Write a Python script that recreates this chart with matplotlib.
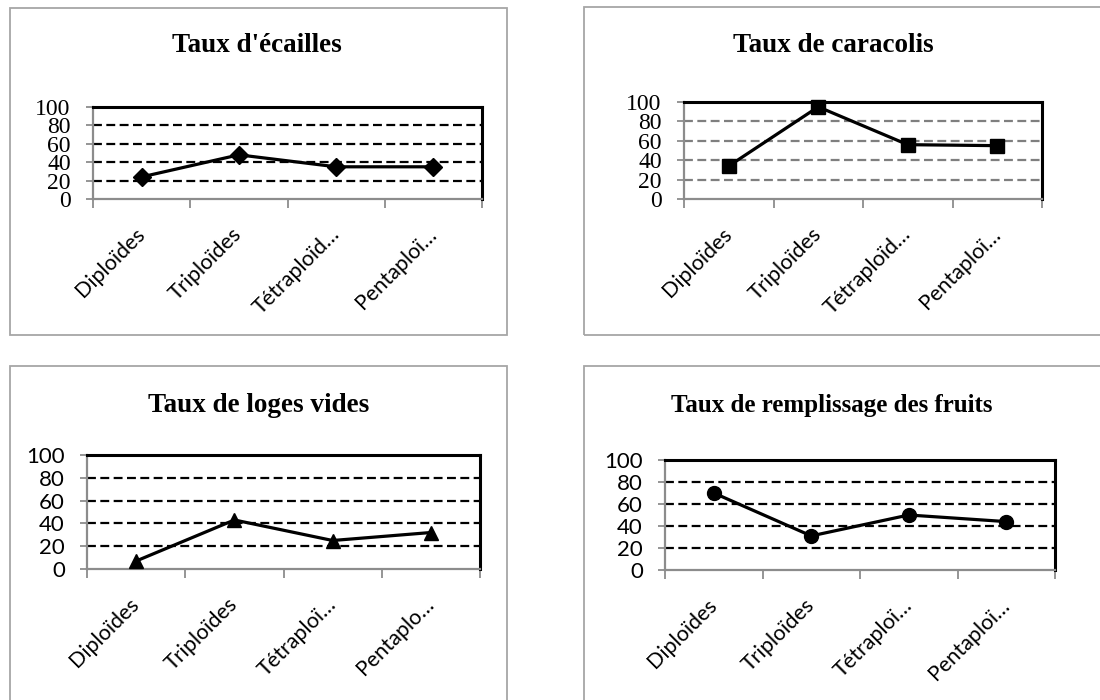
import matplotlib
matplotlib.use("Agg")
import matplotlib.pyplot as plt
import numpy as np
from matplotlib.patches import Rectangle

W, H = 1100, 700

titles = ["Taux d'écailles", "Taux de caracolis", "Taux de loges vides",
          "Taux de remplissage des fruits"]
labels_1 = ["Diploïdes", "Triploïdes", "Tétraploïd…", "Pentaploï…"]
labels_2 = ["Diploïdes", "Triploïdes", "Tétraploïd…", "Pentaploï…"]
labels_3 = ["Diploïdes", "Triploïdes", "Tétraploï…", "Pentaplo…"]
labels_4 = ["Diploïdes", "Triploïdes", "Tétraploï…", "Pentaploï…"]
ecailles = [24, 48, 35, 35]
caracolis = [34, 95, 56, 55]
loges_vides = [7, 43, 25, 32]
remplissage = [70, 31, 50, 44]
yticks = [0, 20, 40, 60, 80, 100]

fig = plt.figure(figsize=(W / 100, H / 100), dpi=100)
fig.patch.set_facecolor("white")

def px_rect(l, t, r, b):
    return [l / W, 1 - b / H, (r - l) / W, (b - t) / H]

# panel frames
for (l, t, r, b) in [(10, 8, 507, 335), (584, 7, 1110, 335),
                     (10, 366, 507, 710), (584, 366, 1110, 710)]:
    fig.patches.append(Rectangle((l / W, 1 - b / H), (r - l) / W, (b - t) / H,
                                 transform=fig.transFigure, fill=False,
                                 edgecolor="#a6a6a6", lw=1.3, zorder=0))

panels = [
    dict(rect=(93, 107, 482, 199), title=titles[0], tsize=19.5, tc=(257, 46),
         vals=ecailles, labels=labels_1, marker="D", ms=9, grid="black",
         yfont="Liberation Serif", ysize=17),
    dict(rect=(684, 102, 1042, 199), title=titles[1], tsize=19.5, tc=(833, 45),
         vals=caracolis, labels=labels_2, marker="s", ms=10, grid="#7f7f7f",
         yfont="Liberation Serif", ysize=17),
    dict(rect=(87, 455, 480, 569), title=titles[2], tsize=19.5, tc=(259, 405),
         vals=loges_vides, labels=labels_3, marker="^", ms=10, grid="black",
         yfont="Lato", ysize=16),
    dict(rect=(665, 460, 1055, 570), title=titles[3], tsize=18, tc=(832, 405),
         vals=remplissage, labels=labels_4, marker="o", ms=10, grid="black",
         yfont="Lato", ysize=16),
]

for p in panels:
    ax = fig.add_axes(px_rect(*p["rect"]))
    x = np.arange(len(p["vals"]))
    ax.plot(x, p["vals"], color="black", lw=2.3, marker=p["marker"],
            ms=p["ms"], mfc="black", mec="black", zorder=3, clip_on=False)
    ax.set_xlim(-0.5, len(x) - 0.5)
    ax.set_ylim(0, 100)
    ax.set_yticks(yticks)
    ax.set_yticklabels([str(v) for v in yticks], fontfamily=p["yfont"],
                       fontsize=p["ysize"])
    for v in yticks[1:-1]:
        ax.axhline(v, color=p["grid"], lw=1.6, ls=(0, (4, 2)), zorder=1)
    ax.set_xticks(np.arange(-0.5, len(x)), labels=[""] * (len(x) + 1))
    ax.set_xticks(x, labels=p["labels"], minor=True)
    ax.tick_params(axis="x", which="major", length=6.5, width=1.3,
                   color="#8c8c8c", direction="out")
    ax.tick_params(axis="x", which="minor", length=0, pad=23)
    ax.tick_params(axis="y", length=5, width=1.3, color="#8c8c8c", pad=11)
    for lab in ax.get_xticklabels(minor=True):
        lab.set_rotation(45)
        lab.set_ha("right")
        lab.set_va("center")
        lab.set_rotation_mode("anchor")
        lab.set_fontfamily("Lato")
        lab.set_fontsize(15.5)
    for side in ("top", "right"):
        ax.spines[side].set_color("black")
        ax.spines[side].set_linewidth(2.2)
    for side in ("left", "bottom"):
        ax.spines[side].set_color("#8c8c8c")
        ax.spines[side].set_linewidth(1.6)
    fig.text(p["tc"][0] / W, 1 - p["tc"][1] / H, p["title"],
             fontfamily="Liberation Serif", fontweight="bold",
             fontsize=p["tsize"], ha="center", va="center")

fig.savefig("out.png", dpi=100)
